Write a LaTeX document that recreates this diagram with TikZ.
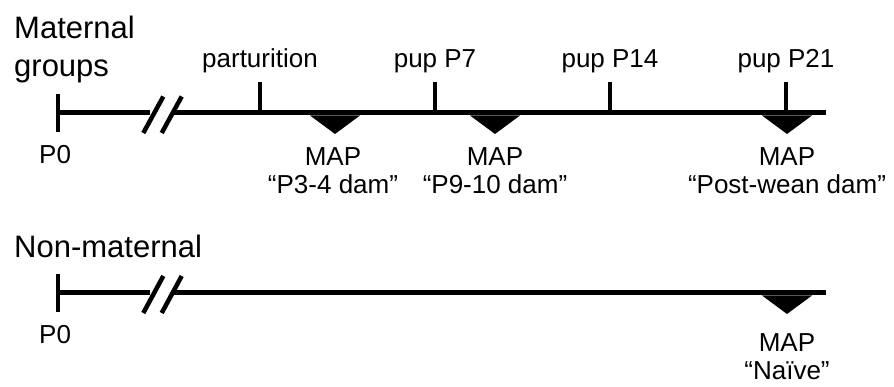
\documentclass[tikz,border=0pt]{standalone}
\usepackage{fontspec}
\setmainfont{Liberation Sans}
\begin{document}
\begin{tikzpicture}[x=1pt,y=-1pt,
  lbl/.style={font=\fontsize{26}{28}\selectfont, inner sep=0pt, align=center},
  head/.style={font=\fontsize{31}{38}\selectfont, inner sep=0pt, align=left},
  axisline/.style={line width=5pt},
  brk/.style={line width=4.5pt},
  tickln/.style={line width=4.5pt},
  tri/.style={fill=black, draw=none}
]
\useasboundingbox (0,0) rectangle (894,387);

% ---------- Maternal groups ----------
\node[head, anchor=north west] (hm) at (14,16) {Maternal\\groups};

\coordinate (a0) at (58,113);
\coordinate (a1) at (150,113);
\coordinate (a2) at (173,113);
\coordinate (aend) at (826,113);
\draw[axisline] (a0) -- (a1);
\draw[axisline] (a2) -- (aend);
\draw[tickln] (58,94) -- (58,132);
\draw[brk] (143.3,133) -- (163.3,96.5);
\draw[brk] (161.7,133) -- (181.7,96.5);
\node[lbl, anchor=base west] (p0a) at (39,164) {P0};

\foreach \x/\t/\n in {260/parturition/t1, 435/pup P7/t2, 610/pup P14/t3, 786/pup P21/t4}{
  \draw[tickln] (\x,82) -- (\x,113);
  \node[lbl, anchor=base] (\n) at (\x,68) {\t};
}

\foreach \x in {335,495,787}{
  \fill[tri] (\x-25,115.5) -- (\x+25,115.5) -- (\x,134) -- cycle;
}
\node[lbl, anchor=north] (m1) at (333,147) {MAP\\“P3-4 dam”};
\node[lbl, anchor=north] (m2) at (495,147) {MAP\\“P9-10 dam”};
\node[lbl, anchor=north] (m3) at (787,147) {MAP\\“Post-wean dam”};

% ---------- Non-maternal ----------
\node[head, anchor=base west] (hn) at (14,258) {Non-maternal};

\coordinate (b0) at (58,293);
\coordinate (b1) at (150,293);
\coordinate (b2) at (173,293);
\coordinate (bend) at (826,293);
\draw[axisline] (b0) -- (b1);
\draw[axisline] (b2) -- (bend);
\draw[tickln] (58,274) -- (58,312);
\draw[brk] (143.3,313) -- (163.3,276);
\draw[brk] (161.7,313) -- (181.7,276);
\node[lbl, anchor=base west] (p0b) at (39,343) {P0};

\fill[tri] (762,295.5) -- (812,295.5) -- (787,314) -- cycle;
\node[lbl, anchor=north] (m4) at (787,333) {MAP\\“Naïve”};
\end{tikzpicture}
\end{document}
